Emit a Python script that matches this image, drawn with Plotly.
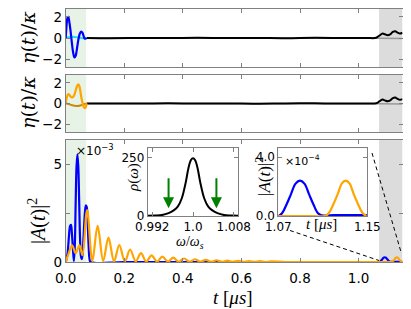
import plotly.graph_objects as go

# The page body adds an 8px margin, so the figure is sized to the remaining area
OFF = 8
FW, FH = 403, 301

# ---------------- data ----------------
x_ticks = [0.0, 0.2, 0.4, 0.6, 0.8, 1.0]
x_ticklabels = ["0.0", "0.2", "0.4", "0.6", "0.8", "1.0"]

# top panel: eta(t)/kappa
t_eta1_blue = [0.000, 0.003, 0.006, 0.009, 0.012, 0.016, 0.020, 0.025, 0.030, 0.034, 0.038,
               0.043, 0.048, 0.053, 0.057, 0.061, 0.065, 0.069, 0.072]
eta1_blue = [0.0, 1.2, 1.9, 2.0, 1.6, 0.8, -0.2, -1.3, -1.85, -1.7, -1.1,
             -0.2, 0.4, 0.6, 0.5, 0.2, -0.05, -0.05, 0.0]
t_eta1_cyan = [0.0, 0.01, 0.02, 0.03, 0.04, 0.05, 0.06, 0.072]
eta1_cyan = [0.0, 0.08, 0.12, 0.10, 0.06, 0.02, -0.02, 0.0]

t_eta_black = [0.072, 0.15, 0.25, 0.35, 0.45, 0.55, 0.65, 0.75, 0.85, 0.95, 1.03, 1.06,
               1.072, 1.082, 1.090, 1.099, 1.108, 1.117, 1.125, 1.133, 1.141, 1.150]
eta1_black = [0.0, -0.02, 0.01, -0.01, 0.02, -0.01, 0.01, -0.02, 0.02, 0.0, 0.0, 0.02,
              0.25, 0.42, 0.35, 0.27, 0.35, 0.58, 0.65, 0.52, 0.42, 0.50]
t_eta_gray = [0.072, 1.07, 1.15]
eta_gray = [0.0, -0.02, -0.04]

# middle panel
t_eta2_orange = [0.000, 0.004, 0.008, 0.012, 0.016, 0.020, 0.024, 0.029, 0.034, 0.039, 0.043,
                 0.046, 0.050, 0.054, 0.058, 0.062, 0.066, 0.069, 0.072]
eta2_orange = [0.0, 0.6, 0.9, 0.85, 0.7, 0.6, 0.6, 0.8, 1.25, 1.7, 1.85,
               1.75, 1.2, 0.5, 0.0, -0.35, -0.45, -0.3, 0.0]
t_eta2_dark = [0.0, 0.01, 0.02, 0.03, 0.04, 0.05, 0.06, 0.072]
eta2_dark = [0.0, -0.05, -0.15, -0.22, -0.25, -0.2, -0.1, 0.0]
eta2_black = [0.0, 0.01, -0.01, 0.02, -0.01, 0.01, -0.02, 0.01, 0.02, -0.01, 0.0, 0.02,
              0.22, 0.38, 0.30, 0.22, 0.30, 0.52, 0.58, 0.45, 0.36, 0.42]

# bottom panel |A(t)|^2 in units of 1e-3
t_A_blue = [0.000, 0.006, 0.011, 0.015, 0.018, 0.021, 0.025, 0.028, 0.031, 0.034, 0.037,
            0.040, 0.043, 0.046, 0.049, 0.052, 0.055, 0.058, 0.062, 0.066, 0.069, 0.072,
            0.075, 0.078, 0.081, 0.085, 0.20, 0.50, 0.80, 1.00, 1.070,
            1.0735, 1.0775, 1.0815, 1.0855, 1.0895, 1.0935, 1.0975, 1.1015, 1.1055, 1.109,
            1.12, 1.13, 1.14, 1.15]
A_blue = [0.0, 0.4, 1.3, 1.85, 1.9, 1.5, 0.6, 0.05, 0.8, 3.0, 4.9,
          5.5, 4.9, 3.1, 1.2, 0.3, 0.15, 0.5, 1.6, 2.6, 2.9, 2.8,
          2.0, 0.9, 0.2, 0.0, 0.0, 0.0, 0.0, 0.0, 0.0,
          0.02, 0.08, 0.15, 0.22, 0.24, 0.22, 0.15, 0.08, 0.02, 0.004,
          0.006, 0.006, 0.006, 0.006]

t_A_orange = [0.000, 0.008, 0.022, 0.034, 0.047, 0.057, 0.073,
              0.091, 0.109, 0.128, 0.146, 0.165, 0.183, 0.202, 0.220, 0.239, 0.257,
              0.275, 0.293, 0.312, 0.330, 0.349, 0.367, 0.386, 0.404, 0.423, 0.441,
              0.460, 0.478, 0.497, 0.515, 0.534, 0.552, 0.571, 0.589, 0.608, 0.626,
              0.645, 0.663, 0.682, 0.700, 0.75, 0.85, 0.95, 1.05, 1.10, 1.112,
              1.1155, 1.1195, 1.1235, 1.1270, 1.1306, 1.1342, 1.1377, 1.1417, 1.1457, 1.1492]
A_orange = [0.0, 0.35, 0.85, 0.45, 0.85, 0.35, 2.65,
            0.05, 1.85, 0.05, 1.25, 0.04, 0.86, 0.03, 0.64, 0.03, 0.45,
            0.02, 0.34, 0.02, 0.27, 0.02, 0.22, 0.01, 0.18, 0.01, 0.14,
            0.01, 0.11, 0.01, 0.09, 0.005, 0.07, 0.005, 0.06, 0.005, 0.05,
            0.005, 0.04, 0.0, 0.03, 0.0, 0.0, 0.0, 0.0, 0.0, 0.0,
            0.02, 0.08, 0.15, 0.22, 0.24, 0.22, 0.15, 0.08, 0.02, 0.0]

# inset 1: density of states rho(omega)
omega = [0.9911, 0.9925, 0.9939, 0.9952, 0.9962, 0.9970, 0.9978, 0.9986, 0.9991, 0.9996,
         1.0000, 1.0004, 1.0009, 1.0014, 1.0022, 1.0030, 1.0038, 1.0048, 1.0061, 1.0075, 1.0089]
rho = [1, 2, 4, 12, 24, 40, 76, 147, 205, 240, 248, 240, 205, 147, 76, 40, 24, 12, 4, 2, 1]
arrow_omega = [0.9952, 1.0046]
arrow_tip_rho = 33
arrow_tail_rho = 168

# ---------------- helpers (window pixel -> paper fraction) ----------------
def fx(p):
    return (p - OFF) / FW

def fy(p):
    return 1 - (p - OFF) / FH

BLUE = "#0000ff"
ORANGE = "#ffa500"
CYAN = "#22ddee"
DARKOR = "#c98a10"
GREEN_BG = "#e8f3e8"
GRAY_BG = "#dcdcdc"

fig = go.Figure()

def line(x, y, color, width, xa, ya, shape="spline"):
    fig.add_trace(go.Scatter(x=x, y=y, mode="lines", xaxis=xa, yaxis=ya,
                             line=dict(color=color, width=width, shape=shape, smoothing=1.0),
                             showlegend=False, hoverinfo="skip"))

# top
line(t_eta_gray, eta_gray, "#999999", 1.5, "x", "y")
line(t_eta_black, eta1_black, "black", 2, "x", "y")
line(t_eta1_cyan, eta1_cyan, CYAN, 2, "x", "y")
line(t_eta1_blue, eta1_blue, BLUE, 2.2, "x", "y")
# middle
line(t_eta_gray, eta_gray, "#999999", 1.5, "x2", "y2")
line(t_eta_black, eta2_black, "black", 2, "x2", "y2")
line(t_eta2_dark, eta2_dark, DARKOR, 2, "x2", "y2")
line(t_eta2_orange, eta2_orange, ORANGE, 2.2, "x2", "y2")
# bottom
line(t_A_blue, A_blue, BLUE, 2.2, "x3", "y3")
line(t_A_orange, A_orange, ORANGE, 2.2, "x3", "y3")
# inset 1
line(omega, rho, "black", 2, "x4", "y4")
# inset 2
line(t_A_blue, A_blue, BLUE, 2.2, "x5", "y5")
line(t_A_orange, A_orange, ORANGE, 2.2, "x5", "y5")

axis_common = dict(showline=True, linecolor="#808080", linewidth=1, mirror="allticks",
                   ticks="inside", ticklen=4, tickcolor="#808080", showgrid=False,
                   zeroline=False, automargin=False,
                   tickfont=dict(family="DejaVu Sans", size=13.5, color="black"))
inset_font = dict(family="DejaVu Sans", size=12, color="black")

xdom = [fx(65.7), fx(402.5)]
layout = dict(
    width=FW, height=FH, margin=dict(l=0, r=0, t=0, b=0, autoexpand=False),
    paper_bgcolor="white", plot_bgcolor="white", showlegend=False,
    xaxis=dict(axis_common, domain=xdom, range=[0, 1.15], anchor="y",
               tickvals=x_ticks, showticklabels=False),
    yaxis=dict(axis_common, domain=[fy(67), fy(9)], range=[-2.75, 2.75], anchor="x",
               tickvals=[-2, 0, 2], ticktext=["\u22122", "0", "2"]),
    xaxis2=dict(axis_common, domain=xdom, range=[0, 1.15], anchor="y2",
                tickvals=x_ticks, showticklabels=False),
    yaxis2=dict(axis_common, domain=[fy(132), fy(75)], range=[-2.75, 2.75], anchor="x2",
                tickvals=[-2, 0, 2], ticktext=["\u22122", "0", "2"]),
    xaxis3=dict(axis_common, domain=xdom, range=[0, 1.15], anchor="y3",
                tickvals=x_ticks, ticktext=x_ticklabels, ticklabelstandoff=4),
    yaxis3=dict(axis_common, domain=[fy(262), fy(140)], range=[0, 6.24], anchor="x3",
                tickvals=[0, 2.5, 5], ticktext=["0", "", "5"]),
    xaxis4=dict(axis_common, domain=[fx(147.7), fx(238.3)], range=[0.9911, 1.0089], anchor="y4",
                tickvals=[0.992, 1.0, 1.008], ticktext=["0.992", "1.0", "1.008"],
                tickfont=inset_font),
    yaxis4=dict(axis_common, domain=[fy(216), fy(147.7)], range=[0, 293], anchor="x4",
                tickvals=[0, 250], ticktext=["0", "250"], tickfont=inset_font),
    xaxis5=dict(axis_common, domain=[fx(278.3), fx(367.3)], range=[1.07, 1.15], anchor="y5",
                tickvals=[1.07, 1.15], ticktext=["1.07", "1.15"], tickfont=inset_font),
    yaxis5=dict(axis_common, domain=[fy(216), fy(148.3)], range=[0, 0.46], anchor="x5",
                tickvals=[0, 0.4], ticktext=["0.0", "4.0"], tickfont=inset_font),
)
fig.update_layout(**layout)

shapes = []
for xa, ya in [("x", "y"), ("x2", "y2"), ("x3", "y3")]:
    shapes.append(dict(type="rect", xref=xa, yref=ya + " domain", x0=0, x1=0.07, y0=0, y1=1,
                       fillcolor=GREEN_BG, line=dict(width=0), layer="below"))
    shapes.append(dict(type="rect", xref=xa, yref=ya + " domain", x0=1.07, x1=1.15, y0=0, y1=1,
                       fillcolor=GRAY_BG, line=dict(width=0), layer="below"))
shapes.append(dict(type="rect", xref="x5 domain", yref="y5 domain", x0=0, x1=1, y0=0, y1=1,
                   fillcolor="#e4e4e4", line=dict(width=0), layer="below"))
# inset connector lines
shapes.append(dict(type="line", xref="paper", yref="paper", x0=fx(290), y0=fy(230.5),
                   x1=fx(379), y1=fy(260.5), line=dict(color="black", width=1, dash="4px,3px")))
shapes.append(dict(type="line", xref="paper", yref="paper", x0=fx(372), y0=fy(153),
                   x1=fx(401), y1=fy(252), line=dict(color="black", width=1, dash="4px,3px")))
fig.update_layout(shapes=shapes)

ann = []
def text(s, x, y, size, angle=0, family="Liberation Serif", xanchor="center"):
    ann.append(dict(text=s, x=fx(x), y=fy(y), xref="paper", yref="paper", showarrow=False,
                    textangle=angle, xanchor=xanchor, yanchor="middle",
                    font=dict(family=family, size=size, color="black")))

eta_lbl = "<i>\u03b7</i>(<i>t</i>)/<i>\u03ba</i>"
A_lbl = "|<i>A</i>(<i>t</i>)|<sup>2</sup>"
t_lbl = "<i>t</i> [<i>\u03bcs</i>]"
text(eta_lbl, 28, 38, 19, -90, family="DejaVu Serif")
text(eta_lbl, 28, 103, 19, -90, family="DejaVu Serif")
text(A_lbl, 37, 221, 20, -90)
text(t_lbl, 233, 297, 19)
text("<i>\u03c1</i>(<i>\u03c9</i>)", 133, 178, 15, -90)
text("<i>\u03c9</i>/<i>\u03c9<sub>s</sub></i>", 190, 242, 14)
text(A_lbl, 263, 177, 17, -90)
text(t_lbl, 321, 224, 15)
text("\u00d710<sup>\u22123</sup>", 74, 150, 12, family="DejaVu Sans", xanchor="left")
text("\u00d710<sup>\u22124</sup>", 283, 160, 11, family="DejaVu Sans", xanchor="left")

for w in arrow_omega:
    ann.append(dict(x=w, y=arrow_tip_rho, ax=w, ay=arrow_tail_rho, xref="x4", yref="y4",
                    axref="x4", ayref="y4", text="", showarrow=True, arrowhead=2,
                    arrowsize=1.1, arrowwidth=2, arrowcolor="#008000", standoff=0))
fig.update_layout(annotations=ann)

fig.write_html("out.html")
